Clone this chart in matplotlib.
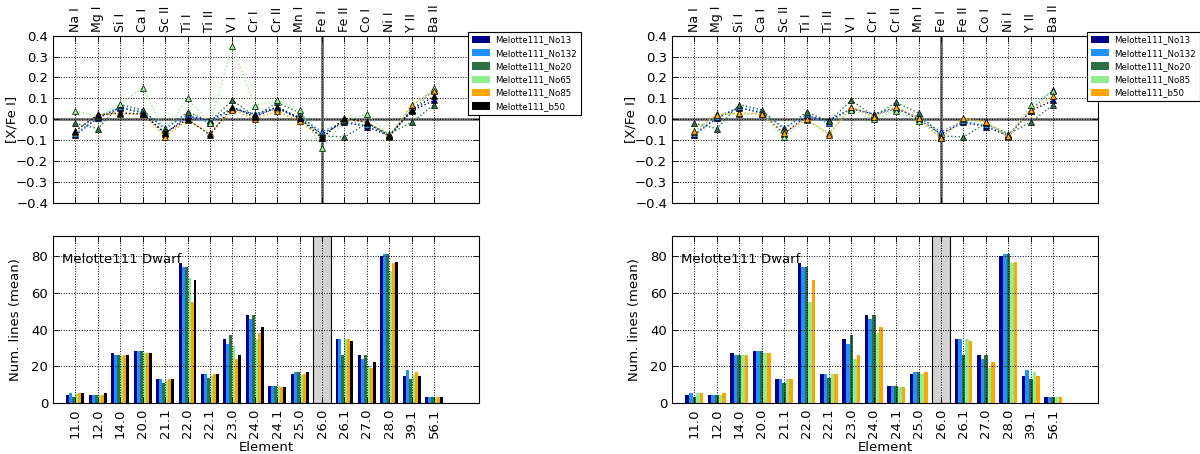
import numpy as np
import matplotlib
matplotlib.use("Agg")
import matplotlib.pyplot as plt
from matplotlib.ticker import FuncFormatter

plt.rcParams['font.family'] = ['DejaVu Sans']

species = ["Na I", "Mg I", "Si I", "Ca I", "Sc II", "Ti I", "Ti II", "V I", "Cr I",
           "Cr II", "Mn I", "Fe I", "Fe II", "Co I", "Ni I", "Y II", "Ba II"]
codes = ["11.0", "12.0", "14.0", "20.0", "21.1", "22.0", "22.1", "23.0", "24.0",
         "24.1", "25.0", "26.0", "26.1", "27.0", "28.0", "39.1", "56.1"]
stars = ["Melotte111_No13", "Melotte111_No132", "Melotte111_No20",
         "Melotte111_No65", "Melotte111_No85", "Melotte111_b50"]
colors = ["#00008b", "#1e90ff", "#2e7048", "#90ee90", "#ffa500", "#000000"]

# [X/Fe I] per star (order of species)
xfe_No13 = [-0.075, 0.005, 0.055, 0.030, -0.070, 0.015, -0.005, 0.050, 0.025,
            0.055, 0.000, -0.070, -0.015, -0.035, -0.080, 0.040, 0.090]
xfe_No132 = [-0.070, 0.010, 0.060, 0.035, -0.040, 0.020, -0.020, 0.055, 0.020,
             0.050, 0.010, -0.060, -0.010, -0.030, -0.075, 0.045, 0.140]
xfe_No20 = [-0.020, -0.045, 0.070, 0.045, -0.050, 0.035, -0.010, 0.090, 0.015,
            0.080, 0.030, -0.080, -0.085, -0.020, -0.070, -0.015, 0.070]
xfe_No65 = [0.040, 0.015, 0.075, 0.150, -0.060, 0.100, -0.020, 0.350, 0.065,
            0.090, 0.045, -0.140, -0.005, 0.025, -0.075, 0.060, 0.150]
xfe_No85 = [-0.060, 0.025, 0.025, 0.025, -0.085, -0.005, -0.065, 0.045, 0.000,
            0.040, -0.010, -0.090, 0.000, -0.015, -0.085, 0.070, 0.135]
xfe_b50 = [-0.055, 0.020, 0.030, 0.025, -0.065, 0.000, -0.075, 0.060, 0.010,
           0.060, 0.005, -0.090, 0.005, -0.015, -0.080, 0.045, 0.110]

# number of lines (mean) per star; NaN for the reference element 26.0
nl_No13 = [4.5, 4.5, 27.5, 28.5, 13, 76, 16, 35, 48, 9.5, 16, np.nan, 35, 26.5, 80, 15, 3.5]
nl_No132 = [5.5, 4.5, 26.5, 28.5, 13, 74, 16, 32, 46, 9.5, 17, np.nan, 35, 24, 81, 18, 3.5]
nl_No20 = [3.5, 4.5, 26.5, 28.5, 11, 74, 14, 37, 48, 9.5, 17, np.nan, 26.5, 26.5, 81, 13, 3.5]
nl_No65 = [5.0, 4.5, 25.5, 27.5, 12, 68, 15, 31, 35, 9.5, 15.5, np.nan, 35, 20, 72, 15.5, 3.5]
nl_No85 = [5.5, 4.5, 26.0, 27.5, 13, 55, 16, 24, 38, 9.0, 16, np.nan, 35, 19, 76, 17, 3.5]
nl_b50 = [5.5, 5.5, 26.0, 27.5, 13, 67, 16, 26.5, 41.5, 9.0, 17, np.nan, 34, 22.5, 77, 15, 3.5]

xfe = [xfe_No13, xfe_No132, xfe_No20, xfe_No65, xfe_No85, xfe_b50]
nlines = [nl_No13, nl_No132, nl_No20, nl_No65, nl_No85, nl_b50]

panels = [
    dict(left=53 / 1200, sel=[0, 1, 2, 3, 4, 5]),
    dict(left=672 / 1200, sel=[0, 1, 2, 4, 5]),
]

fig = plt.figure(figsize=(12, 4.54), dpi=100)
W = 426 / 1200
H = 167 / 454
ref_idx = species.index("Fe I")
x = np.arange(len(species))

def fmt1(v, pos):
    s = "%.1f" % v
    if s == "-0.0":
        s = "0.0"
    return s.replace("-", "\u2212")

for p in panels:
    sel = p['sel']
    n = len(sel)
    axt = fig.add_axes([p['left'], 1 - 202.7 / 454, W, H])
    axb = fig.add_axes([p['left'], 1 - 403.3 / 454, W, H])

    # ---- top: [X/Fe I]
    axt.axhline(0, color='#808080', lw=2.2, zorder=1)
    axt.axvline(ref_idx, color='#808080', lw=2.2, zorder=1)
    for k, i in enumerate(sel):
        axt.plot(x, xfe[i], linestyle=':', color=colors[k], lw=1.0,
                 marker='^', markersize=5, markerfacecolor=colors[k],
                 markeredgecolor='black', markeredgewidth=0.5, zorder=3)
    axt.set_xlim(-1, 18)
    axt.set_ylim(-0.4, 0.4)
    axt.set_yticks(np.round(np.arange(-0.4, 0.41, 0.1), 1))
    axt.yaxis.set_major_formatter(FuncFormatter(fmt1))
    axt.set_xticks(x)
    axt.set_xticklabels(species, rotation=90, fontsize=9)
    for j, lab in enumerate(axt.get_xticklabels()):
        if j == ref_idx:
            lab.set_style('italic')
    axt.tick_params(axis='x', top=True, bottom=True, labeltop=True, labelbottom=False,
                    direction='in', length=4, width=0.6, pad=3)
    axt.tick_params(axis='y', left=True, right=True, direction='in', length=4,
                    width=0.6, labelsize=9.5)
    axt.set_ylabel("[X/Fe I]", fontsize=9.5)
    axt.yaxis.set_label_coords(-0.08, 0.5)
    axt.grid(True, color='black', linestyle=':', linewidth=0.7)
    axt.set_axisbelow(False)

    # ---- bottom: number of lines
    w = 0.8 / n
    bars = []
    for k, i in enumerate(sel):
        offs = -0.4 + w * (k + 0.5)
        vals = np.nan_to_num(np.array(nlines[i], dtype=float), nan=0.0)
        b = axb.bar(x + offs, vals, width=w, color=colors[k], linewidth=0,
                    label=stars[i], zorder=2)
        bars.append(b)
    axb.axvspan(ref_idx - 0.4, ref_idx + 0.4, facecolor='#d3d3d3',
                edgecolor='black', linewidth=0.8, zorder=1)
    axb.set_xlim(-1, 18)
    ymax = np.nanmax([np.nanmax(nlines[i]) for i in sel])
    axb.set_ylim(0, ymax * 1.12)
    axb.set_yticks([0, 20, 40, 60, 80])
    axb.set_xticks(x)
    axb.set_xticklabels(codes, rotation=90, fontsize=9.5)
    axb.tick_params(axis='both', direction='in', top=True, right=True,
                    length=4, width=0.6, labelsize=9.5)
    axb.set_xlabel("Element", fontsize=9.5, labelpad=2)
    axb.set_ylabel("Num. lines (mean)", fontsize=9.5)
    axb.yaxis.set_label_coords(-0.073, 0.5)
    axb.grid(True, color='black', linestyle=':', linewidth=0.7, zorder=3)
    axb.set_axisbelow(False)
    axb.text(0.022, 0.86, "Melotte111 Dwarf", transform=axb.transAxes,
             fontsize=9.5, va='center', ha='left', zorder=5)

    leg = axt.legend(bars, [stars[i] for i in sel], loc='upper left',
                     bbox_to_anchor=(0.974, 1.025), fontsize=6.2, frameon=True,
                     fancybox=False, framealpha=1, edgecolor='black',
                     handlelength=2.1, handleheight=0.9, labelspacing=0.5,
                     borderpad=0.45, handletextpad=0.6, borderaxespad=0)
    leg.get_frame().set_linewidth(0.8)
    leg.set_zorder(10)

fig.savefig("out.png", dpi=100)
